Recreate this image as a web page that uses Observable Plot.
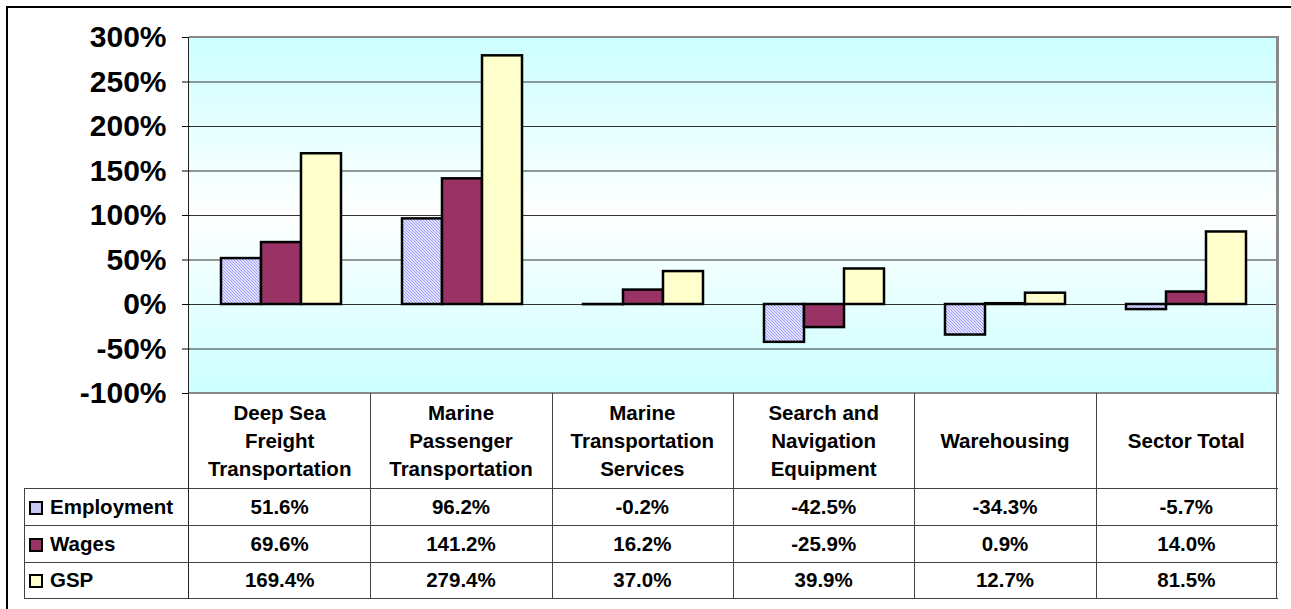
<!DOCTYPE html>
<html><head><meta charset="utf-8">
<script src="https://cdn.jsdelivr.net/npm/d3@7"></script>
<script src="https://cdn.jsdelivr.net/npm/@observablehq/plot@0.6"></script>
<style>
body{margin:0;background:#fff;font-family:"Liberation Sans",Arial,sans-serif;}
#wrap{position:relative;width:1291px;height:609px;overflow:hidden;background:#fff;}
.abs{position:absolute;}
.cell{position:absolute;display:flex;align-items:center;justify-content:center;text-align:center;font-weight:bold;font-size:20.5px;color:#000;}
.hline{position:absolute;height:1px;background:#444;}
.vline{position:absolute;width:1px;background:#444;}
</style></head><body><div id="wrap"></div>
<script>
// ---- data ----
const categories = ["Deep Sea\nFreight\nTransportation", "Marine\nPassenger\nTransportation", "Marine\nTransportation\nServices", "Search and\nNavigation\nEquipment", "Warehousing", "Sector Total"];
const series = ["Employment", "Wages", "GSP"];
const employment = [51.6, 96.2, -0.2, -42.5, -34.3, -5.7];
const wages = [69.6, 141.2, 16.2, -25.9, 0.9, 14.0];
const gsp = [169.4, 279.4, 37.0, 39.9, 12.7, 81.5];
const yTicks = [-100, -50, 0, 50, 100, 150, 200, 250, 300];

const values = {Employment: employment, Wages: wages, GSP: gsp};
const fills = {Employment: "url(#hatch)", Wages: "#993366", GSP: "#FFFFCC"};
const data = [];
categories.forEach((c, i) => series.forEach(s => data.push({category: c, series: s, value: values[s][i]})));

const W = 1291, L = 189, R = 1277, T = 37, B = 393;
const wrap = document.getElementById("wrap");
function el(cls, css, html) {
  const d = document.createElement("div");
  d.className = cls;
  Object.assign(d.style, css);
  if (html != null) d.innerHTML = html;
  wrap.appendChild(d);
  return d;
}

// outer frame
el("abs", {left: "6px", top: "6px", width: "2000px", height: "2000px", border: "2px solid #000"});
// plot area background
el("abs", {left: L + "px", top: T + "px", width: (R - L) + "px", height: (B - T) + "px",
  background: "linear-gradient(to bottom, #ccffff 0%, #ffffff 50%, #ccffff 100%)"});

const chart = Plot.plot({
  width: W, height: B + 1,
  marginLeft: L, marginRight: W - R, marginTop: T, marginBottom: 1,
  style: {background: "transparent", fontFamily: '"Liberation Sans", Arial, sans-serif', color: "#000", overflow: "visible"},
  fx: {domain: categories, padding: 0, axis: null, label: null},
  x: {domain: series, paddingInner: 0, paddingOuter: 0.745, axis: null, label: null},
  y: {domain: [-100, 300], axis: null, label: null},
  marks: [
    Plot.ruleY(yTicks.filter(t => t > -100 && t < 300), {stroke: "#333", strokeWidth: 1}),
    ...series.map(s => Plot.barY(data, {filter: d => d.series === s, fx: "category", x: "series", y: "value",
      fill: fills[s], stroke: "#000", strokeWidth: 2.5})),
    Plot.axisY({ticks: yTicks, tickFormat: d => d + "%", tickSize: 8, tickPadding: 16, label: null,
      fontSize: 30, fontWeight: "bold", stroke: "#000"})
  ]
});
const ns = "http://www.w3.org/2000/svg";
const defs = document.createElementNS(ns, "defs");
defs.innerHTML = '<pattern id="hatch" patternUnits="userSpaceOnUse" width="3" height="3">' +
  '<rect width="3" height="3" fill="#ffffff"/>' +
  '<path d="M-1,-1 L4,4 M-1,2 L1,4 M2,-1 L4,1" stroke="#9a9aff" stroke-width="1.1"/></pattern>';
chart.prepend(defs);
chart.style.position = "absolute";
chart.style.left = "0px";
chart.style.top = "0px";
wrap.appendChild(chart);

// plot borders
el("abs", {left: L + "px", top: (T - 1) + "px", width: (R - L + 2) + "px", height: "2px", background: "#888"});
el("abs", {left: (R - 1) + "px", top: (T - 1) + "px", width: "3px", height: (B - T + 2) + "px", background: "#888"});
el("abs", {left: L + "px", top: (B - 1) + "px", width: (R - L + 1) + "px", height: "2px", background: "#888"});

// data table
const colW = (R - L) / categories.length;
const rowTops = [488, 525, 562, 598];
const tableLeft = 24;
// header cells
categories.forEach((c, i) => {
  el("cell", {left: (L + i * colW) + "px", top: B + "px", width: colW + "px", height: (rowTops[0] - B) + "px", lineHeight: "28px"},
    c.split("\n").join("<br>"));
});
// value cells
series.forEach((s, r) => {
  const top = rowTops[r], h = rowTops[r + 1] - rowTops[r];
  values[s].forEach((v, i) => {
    el("cell", {left: (L + i * colW) + "px", top: top + "px", width: colW + "px", height: h + "px"}, v.toFixed(1) + "%");
  });
  // row label with key
  el("abs", {left: "29px", top: (top + h / 2 - 6) + "px", width: "10px", height: "10px", border: "2px solid #000",
    background: s === "Employment" ? "#c8c8f4" : fills[s]});
  el("cell", {left: "50px", top: top + "px", height: h + "px", justifyContent: "flex-start"}, s);
});
// table lines
rowTops.forEach(y => el("hline", {left: tableLeft + "px", top: y + "px", width: (R - tableLeft + 1) + "px"}));
el("vline", {left: tableLeft + "px", top: rowTops[0] + "px", height: (rowTops[3] - rowTops[0] + 1) + "px"});
for (let i = 1; i <= categories.length; i++) {
  el("vline", {left: Math.round(L + i * colW) - (i === categories.length ? 1 : 0) + "px", top: B + "px", height: (rowTops[3] - B + 1) + "px"});
}
// left axis line (plot + table)
el("abs", {left: (L - 1) + "px", top: T + "px", width: "1px", height: (rowTops[3] - T + 1) + "px", background: "#222"});
</script>
</body></html>
